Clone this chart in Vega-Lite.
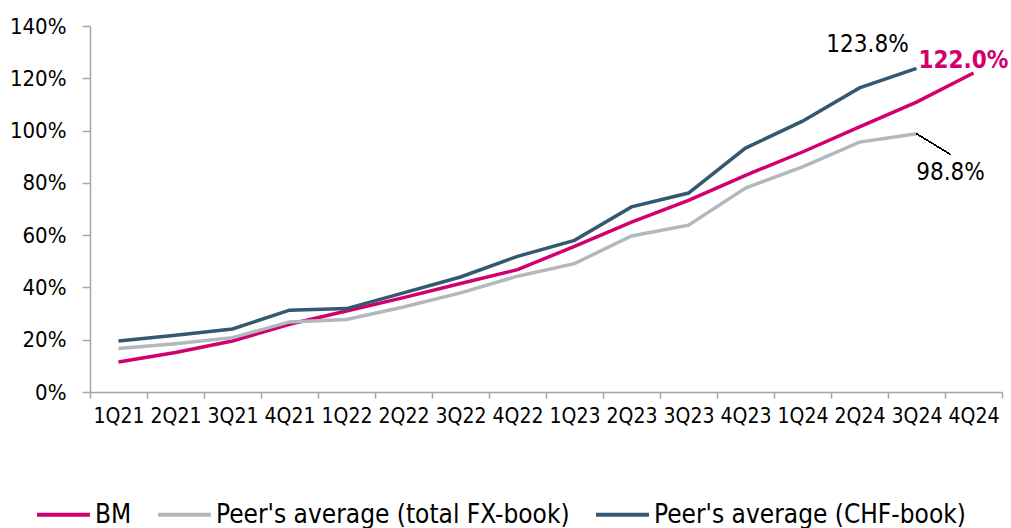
{
  "$schema": "https://vega.github.io/schema/vega-lite/v6.json",
  "autosize": "none",
  "width": 912,
  "height": 366,
  "padding": {"left": 90, "top": 26, "right": 9, "bottom": 136},
  "background": "white",
  "config": {
    "font": "DejaVu Sans Condensed",
    "view": {"stroke": null},
    "axis": {
      "domainColor": "#a6a6a6",
      "domainWidth": 1.5,
      "tickColor": "#a6a6a6",
      "tickWidth": 1.5,
      "labelColor": "#000000",
      "labelFont": "DejaVu Sans Condensed",
      "labelFontSize": 21,
      "grid": false,
      "title": null
    }
  },
  "datasets": {
    "series": [
      {"quarter": "1Q21", "series": "BM", "value": 0.115},
      {"quarter": "2Q21", "series": "BM", "value": 0.151},
      {"quarter": "3Q21", "series": "BM", "value": 0.195},
      {"quarter": "4Q21", "series": "BM", "value": 0.259},
      {"quarter": "1Q22", "series": "BM", "value": 0.310},
      {"quarter": "2Q22", "series": "BM", "value": 0.361},
      {"quarter": "3Q22", "series": "BM", "value": 0.415},
      {"quarter": "4Q22", "series": "BM", "value": 0.468},
      {"quarter": "1Q23", "series": "BM", "value": 0.557},
      {"quarter": "2Q23", "series": "BM", "value": 0.650},
      {"quarter": "3Q23", "series": "BM", "value": 0.733},
      {"quarter": "4Q23", "series": "BM", "value": 0.829},
      {"quarter": "1Q24", "series": "BM", "value": 0.918},
      {"quarter": "2Q24", "series": "BM", "value": 1.014},
      {"quarter": "3Q24", "series": "BM", "value": 1.109},
      {"quarter": "4Q24", "series": "BM", "value": 1.220},
      {"quarter": "1Q21", "series": "Peer's average (total FX-book)", "value": 0.166},
      {"quarter": "2Q21", "series": "Peer's average (total FX-book)", "value": 0.185},
      {"quarter": "3Q21", "series": "Peer's average (total FX-book)", "value": 0.208},
      {"quarter": "4Q21", "series": "Peer's average (total FX-book)", "value": 0.268},
      {"quarter": "1Q22", "series": "Peer's average (total FX-book)", "value": 0.277},
      {"quarter": "2Q22", "series": "Peer's average (total FX-book)", "value": 0.325},
      {"quarter": "3Q22", "series": "Peer's average (total FX-book)", "value": 0.379},
      {"quarter": "4Q22", "series": "Peer's average (total FX-book)", "value": 0.443},
      {"quarter": "1Q23", "series": "Peer's average (total FX-book)", "value": 0.491},
      {"quarter": "2Q23", "series": "Peer's average (total FX-book)", "value": 0.597},
      {"quarter": "3Q23", "series": "Peer's average (total FX-book)", "value": 0.638},
      {"quarter": "4Q23", "series": "Peer's average (total FX-book)", "value": 0.780},
      {"quarter": "1Q24", "series": "Peer's average (total FX-book)", "value": 0.861},
      {"quarter": "2Q24", "series": "Peer's average (total FX-book)", "value": 0.956},
      {"quarter": "3Q24", "series": "Peer's average (total FX-book)", "value": 0.988},
      {"quarter": "1Q21", "series": "Peer's average (CHF-book)", "value": 0.195},
      {"quarter": "2Q21", "series": "Peer's average (CHF-book)", "value": 0.217},
      {"quarter": "3Q21", "series": "Peer's average (CHF-book)", "value": 0.241},
      {"quarter": "4Q21", "series": "Peer's average (CHF-book)", "value": 0.313},
      {"quarter": "1Q22", "series": "Peer's average (CHF-book)", "value": 0.319},
      {"quarter": "2Q22", "series": "Peer's average (CHF-book)", "value": 0.379},
      {"quarter": "3Q22", "series": "Peer's average (CHF-book)", "value": 0.440},
      {"quarter": "4Q22", "series": "Peer's average (CHF-book)", "value": 0.519},
      {"quarter": "1Q23", "series": "Peer's average (CHF-book)", "value": 0.580},
      {"quarter": "2Q23", "series": "Peer's average (CHF-book)", "value": 0.708},
      {"quarter": "3Q23", "series": "Peer's average (CHF-book)", "value": 0.761},
      {"quarter": "4Q23", "series": "Peer's average (CHF-book)", "value": 0.933},
      {"quarter": "1Q24", "series": "Peer's average (CHF-book)", "value": 1.036},
      {"quarter": "2Q24", "series": "Peer's average (CHF-book)", "value": 1.163},
      {"quarter": "3Q24", "series": "Peer's average (CHF-book)", "value": 1.238}
    ]
  },
  "data": {"name": "series"},
  "encoding": {
    "x": {
      "field": "quarter",
      "type": "ordinal",
      "sort": null,
      "bandPosition": 0.5,
      "scale": {"type": "band", "paddingInner": 0, "paddingOuter": 0},
      "axis": {
        "labelAngle": 0,
        "tickBand": "extent",
        "tickSize": 6,
        "labelPadding": 7
      }
    },
    "y": {
      "field": "value",
      "type": "quantitative",
      "scale": {"domain": [0, 1.4], "nice": false},
      "axis": {
        "values": [0, 0.2, 0.4, 0.6, 0.8, 1.0, 1.2, 1.4],
        "format": ".0%",
        "tickSize": 8,
        "labelPadding": 16,
        "labelFontSize": 22
      }
    }
  },
  "layer": [
    {
      "mark": {"type": "line", "strokeWidth": 3.5, "strokeJoin": "miter"},
      "encoding": {
        "color": {
          "field": "series",
          "type": "nominal",
          "sort": ["BM", "Peer's average (total FX-book)", "Peer's average (CHF-book)"],
          "scale": {
            "domain": ["BM", "Peer's average (total FX-book)", "Peer's average (CHF-book)"],
            "range": ["#d2006f", "#b1b8be", "#33586f"]
          },
          "legend": {
            "title": null,
            "orient": "none",
            "legendX": -55,
            "legendY": 460,
            "direction": "horizontal",
            "columns": 3,
            "symbolType": "stroke",
            "symbolSize": 2800,
            "symbolStrokeWidth": 4,
            "labelFontSize": 26,
            "labelFont": "DejaVu Sans Condensed",
            "labelColor": "#000000",
            "labelOffset": 3,
            "columnPadding": 18,
            "labelLimit": 500,
            "padding": 0
          }
        }
      }
    },
    {
      "transform": [{"filter": "datum.quarter === '3Q24' && datum.series === \"Peer's average (CHF-book)\""}],
      "mark": {"type": "text", "fontSize": 24, "color": "#000000", "dx": -49, "dy": -23},
      "encoding": {"text": {"field": "value", "format": ".1%"}}
    },
    {
      "transform": [{"filter": "datum.quarter === '4Q24' && datum.series === 'BM'"}],
      "mark": {"type": "text", "fontSize": 24, "fontWeight": "bold", "color": "#d2006f", "dx": -10, "dy": -12},
      "encoding": {"text": {"field": "value", "format": ".1%"}}
    },
    {
      "transform": [{"filter": "datum.quarter === '3Q24' && datum.series === \"Peer's average (total FX-book)\""}],
      "mark": {"type": "text", "fontSize": 24, "color": "#000000", "dx": 34, "dy": 39},
      "encoding": {"text": {"field": "value", "format": ".1%"}}
    },
    {
      "mark": {"type": "rule", "color": "#000000", "strokeWidth": 1},
      "encoding": {
        "x": {"datum": "3Q24", "type": "ordinal", "bandPosition": 0.5},
        "y": {"datum": 0.988, "type": "quantitative"},
        "x2": {"datum": "4Q24", "bandPosition": 0.1},
        "y2": {"datum": 0.908}
      }
    }
  ]
}
